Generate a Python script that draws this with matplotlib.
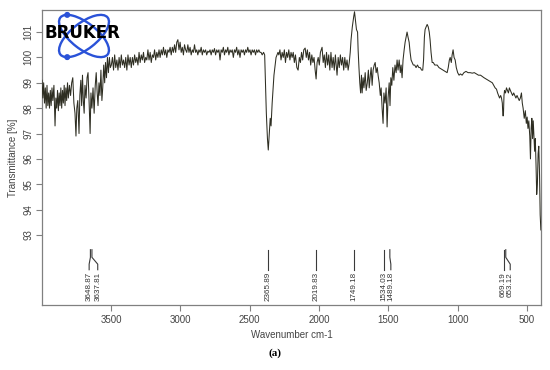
import numpy as np
import matplotlib
matplotlib.use("Agg")
import matplotlib.pyplot as plt
from matplotlib.patches import Ellipse, Circle

# ---------------- data ----------------
wavenumber = [
    3998, 3992, 3986, 3980, 3974, 3968, 3962, 3956, 3950, 3944, 3938, 3932, 3926, 3920, 3912,
    3904, 3898, 3892, 3886, 3880, 3874, 3868, 3862, 3856, 3850, 3844, 3838, 3832, 3826, 3820,
    3814, 3808, 3800, 3792, 3784, 3776, 3768, 3760, 3753, 3747, 3740, 3731, 3725, 3718, 3712,
    3706, 3700, 3694, 3688, 3680, 3673, 3666, 3658, 3651, 3645, 3638, 3630, 3622, 3614, 3607,
    3600, 3594, 3587, 3580, 3573, 3566, 3560, 3553, 3546, 3540, 3533, 3526, 3519, 3512, 3505,
    3498, 3490, 3482, 3474, 3466, 3458, 3450, 3442, 3434, 3426, 3418, 3410, 3402, 3394, 3386,
    3378, 3370, 3362, 3354, 3346, 3338, 3330, 3322, 3314, 3306, 3298, 3290, 3282, 3274, 3266,
    3258, 3250, 3242, 3234, 3226, 3218, 3210, 3202, 3194, 3186, 3178, 3170, 3162, 3154, 3146,
    3138, 3130, 3122, 3114, 3106, 3098, 3090, 3082, 3074, 3066, 3058, 3050, 3042, 3034, 3026,
    3018, 3010, 3002, 2994, 2986, 2978, 2970, 2962, 2954, 2946, 2938, 2930, 2922, 2914, 2906,
    2898, 2890, 2882, 2874, 2866, 2858, 2850, 2842, 2834, 2826, 2818, 2810, 2802, 2794, 2786,
    2778, 2770, 2762, 2754, 2746, 2738, 2730, 2722, 2714, 2706, 2698, 2690, 2682, 2674, 2666,
    2658, 2650, 2642, 2634, 2626, 2618, 2610, 2602, 2594, 2586, 2578, 2570, 2562, 2554, 2546,
    2538, 2530, 2522, 2514, 2506, 2498, 2490, 2482, 2474, 2466, 2458, 2450, 2442, 2434, 2426,
    2418, 2410, 2400, 2392, 2386, 2380, 2372, 2366, 2360, 2352, 2346, 2338, 2325, 2310, 2296,
    2290, 2282, 2274, 2266, 2258, 2250, 2242, 2234, 2226, 2218, 2210, 2202, 2194, 2186, 2178,
    2170, 2160, 2151, 2142, 2134, 2126, 2118, 2110, 2100, 2092, 2084, 2076, 2068, 2060, 2052,
    2044, 2036, 2028, 2021, 2014, 2006, 1998, 1990, 1978, 1970, 1962, 1954, 1946, 1938, 1930,
    1922, 1914, 1906, 1898, 1890, 1882, 1870, 1862, 1854, 1846, 1838, 1830, 1822, 1814, 1806,
    1798, 1790, 1782, 1775, 1769, 1760, 1750, 1744, 1738, 1730, 1722, 1718, 1712, 1706, 1700,
    1694, 1689, 1682, 1676, 1667, 1660, 1652, 1644, 1638, 1630, 1624, 1617, 1610, 1602, 1595,
    1588, 1580, 1574, 1566, 1558, 1552, 1545, 1538, 1532, 1524, 1516, 1509, 1502, 1494, 1488,
    1482, 1475, 1468, 1460, 1452, 1444, 1437, 1430, 1422, 1414, 1408, 1401, 1394, 1386, 1379,
    1372, 1365, 1358, 1350, 1343, 1336, 1328, 1320, 1310, 1300, 1290, 1280, 1270, 1260, 1252,
    1246, 1240, 1235, 1228, 1220, 1212, 1205, 1199, 1192, 1184, 1176, 1165, 1148, 1135, 1120,
    1105, 1090, 1076, 1068, 1060, 1054, 1046, 1040, 1033, 1026, 1018, 1010, 1000, 990, 980,
    968, 955, 940, 925, 910, 895, 880, 865, 850, 835, 823, 810, 795, 780, 765,
    750, 740, 730, 720, 712, 705, 698, 690, 684, 678, 674, 670, 666, 662, 655,
    648, 641, 634, 627, 620, 612, 604, 596, 588, 580, 572, 564, 556, 548, 540,
    534, 528, 520, 512, 505, 499, 493, 487, 480, 475, 470, 465, 460, 455, 450,
    445, 440, 435, 430, 425, 420, 415, 410, 405, 400,
]
transmittance = [
    99.1, 98.4, 99.0, 98.2, 98.8, 98.0, 98.9, 98.1, 98.6, 98.0, 98.7, 98.1, 98.8, 98.3, 98.9,
    97.3, 98.4, 98.0, 98.7, 97.9, 98.6, 98.1, 98.8, 98.0, 98.7, 98.2, 98.9, 98.1, 98.8, 98.3,
    99.0, 98.4, 98.9, 98.5, 99.0, 99.2, 98.2, 97.8, 96.9, 98.0, 98.3, 97.0, 98.5, 99.1, 98.1,
    99.3, 98.3, 97.8, 98.9, 98.4, 99.2, 99.4, 98.2, 97.0, 98.6, 98.0, 98.8, 97.8, 98.9, 99.4,
    98.6, 98.1, 99.0, 98.5, 99.5, 98.3, 98.8, 99.7, 99.0, 99.8, 99.2, 100.0, 99.4, 100.0, 99.6,
    99.7, 100.0, 99.5, 100.1, 99.6, 99.9, 99.5, 100.0, 99.6, 100.1, 99.7, 99.9, 99.6, 100.0, 99.5,
    100.1, 99.7, 100.0, 99.6, 100.0, 99.7, 100.1, 99.8, 100.0, 99.7, 100.2, 99.8, 100.1, 99.9, 100.2,
    99.8, 100.0, 99.9, 100.3, 99.9, 100.2, 99.8, 100.1, 100.0, 100.3, 99.9, 100.2, 100.0, 100.3, 100.0,
    100.3, 100.1, 100.4, 100.1, 100.3, 100.0, 100.3, 100.2, 100.4, 100.1, 100.4, 100.2, 100.5, 100.2, 100.6,
    100.7, 100.3, 100.6, 100.2, 100.4, 100.1, 100.5, 100.3, 100.2, 100.5, 100.2, 100.4, 100.1, 100.3, 100.2,
    100.5, 100.2, 100.3, 100.1, 100.3, 100.2, 100.4, 100.1, 100.3, 100.2, 100.3, 100.1, 100.25, 100.2, 100.3,
    100.1, 100.3, 100.2, 100.35, 100.1, 100.3, 100.2, 100.3, 99.9, 100.3, 100.2, 100.4, 100.1, 100.3, 100.2,
    100.4, 100.1, 100.3, 100.2, 100.3, 100.0, 100.3, 100.2, 100.4, 100.1, 100.3, 100.0, 100.3, 100.2, 100.3,
    100.1, 100.3, 100.2, 100.4, 100.2, 100.3, 100.1, 100.3, 100.2, 100.3, 100.1, 100.3, 100.2, 100.3, 100.2,
    100.2, 100.1, 100.2, 100.1, 99.0, 97.8, 96.8, 96.35, 96.9, 97.6, 97.3, 98.2, 99.3, 100.0, 100.2,
    100.1, 100.3, 99.9, 100.2, 100.0, 100.3, 99.8, 100.2, 100.0, 100.3, 99.9, 100.2, 100.0, 100.2, 99.8,
    100.1, 99.6, 99.5, 100.0, 99.8, 100.2, 99.9, 100.3, 100.37, 100.0, 100.3, 99.9, 100.2, 99.7, 100.1,
    99.8, 100.0, 99.5, 99.15, 99.8, 100.0, 99.7, 100.2, 100.4, 99.8, 100.1, 99.6, 100.2, 99.7, 100.1,
    99.5, 100.2, 99.6, 100.0, 99.5, 100.1, 99.3, 100.0, 99.6, 100.1, 99.7, 100.0, 99.5, 100.0, 99.6,
    99.9, 99.5, 99.8, 100.2, 100.7, 101.2, 101.6, 101.8, 101.5, 101.1, 101.0, 100.3, 99.6, 99.0, 98.6,
    99.3, 98.6, 99.2, 98.8, 99.4, 98.7, 99.0, 99.5, 98.8, 99.3, 99.6, 98.9, 99.5, 99.7, 99.8,
    99.4, 99.6, 99.3, 99.0, 98.5, 98.8, 98.0, 97.4, 98.6, 98.2, 98.8, 97.26, 98.4, 99.0, 98.1,
    99.2, 98.9, 99.6, 99.1, 99.7, 99.4, 99.9, 99.5, 99.9, 99.4, 99.7, 99.2, 99.9, 100.3, 100.6,
    100.8, 101.0, 100.8, 100.6, 100.2, 99.9, 99.8, 99.7, 99.7, 99.6, 99.7, 99.6, 99.6, 99.5, 99.5,
    99.9, 100.8, 101.1, 101.2, 101.3, 101.2, 101.0, 100.7, 100.2, 99.8, 99.8, 99.7, 99.7, 99.6, 99.55,
    99.5, 99.45, 99.4, 99.6, 99.9, 100.0, 99.8, 100.1, 100.3, 100.0, 99.9, 99.6, 99.4, 99.3, 99.35,
    99.3, 99.4, 99.45, 99.4, 99.4, 99.38, 99.4, 99.35, 99.3, 99.3, 99.25, 99.2, 99.15, 99.1, 99.05,
    99.0, 98.9, 98.8, 98.75, 98.6, 98.5, 98.4, 98.5, 98.4, 98.2, 97.7, 97.7, 98.5, 98.7, 98.6,
    98.8, 98.7, 98.6, 98.8, 98.7, 98.6, 98.5, 98.6, 98.5, 98.4, 98.5, 98.4, 98.3, 98.4, 98.6,
    98.2, 98.0, 97.6, 97.9, 97.4, 97.65, 97.2, 97.5, 96.9, 96.0, 97.2, 97.6, 96.8, 97.5, 96.9,
    96.3, 96.8, 95.8, 94.6, 95.0, 96.2, 96.5, 95.5, 93.8, 93.2,
]

peak_values = [3648.87, 3637.81, 2365.89, 2019.83, 1749.18, 1534.03, 1489.18, 669.19, 653.12]
peak_labels = ["3648.87", "3637.81", "2365.89", "2019.83", "1749.18", "1534.03", "1489.18", "669.19", "653.12"]

x_ticks = [3500, 3000, 2500, 2000, 1500, 1000, 500]
y_ticks = [93, 94, 95, 96, 97, 98, 99, 100, 101]

# ---------------- layout ----------------
W, H = 550, 370
fig = plt.figure(figsize=(W / 100, H / 100), dpi=100)
plt.rcParams['font.family'] = ['Liberation Sans', 'DejaVu Sans']

def px_rect(x0, y0, x1, y1):
    return [x0 / W, 1 - y1 / H, (x1 - x0) / W, (y1 - y0) / H]

ax = fig.add_axes(px_rect(42, 10, 541, 305))
text_col = '#444444'
frame_col = '#808080'

ax.plot(wavenumber, transmittance, color='#2e2e22', lw=0.75, zorder=3)
ax.set_xlim(3998, 399)
ax.set_ylim(90.24, 101.87)

ax.set_xticks(x_ticks)
ax.set_yticks(y_ticks)
ax.tick_params(axis='both', direction='out', length=4, width=0.8, color=frame_col,
               labelcolor=text_col, labelsize=7)
ax.tick_params(axis='y', pad=2)
for lbl in ax.get_yticklabels():
    lbl.set_rotation(90)
    lbl.set_va('center')
for s in ax.spines.values():
    s.set_color(frame_col)
    s.set_linewidth(0.9)

ax.set_xlabel('Wavenumber cm-1', fontsize=7, color=text_col, labelpad=3)
ax.set_ylabel('Transmittance [%]', fontsize=7, color=text_col, labelpad=4)

# peak annotations
label_pos = [3658, 3596, 2365.89, 2019.83, 1749.18, 1534.03, 1482, 669.19, 621]
y_top, y_b1, y_b2, y_end, y_txt = 92.42, 92.12, 91.85, 91.63, 91.55
for pv, lp, lab in zip(peak_values, label_pos, peak_labels):
    ax.plot([pv, pv, lp, lp], [y_top, y_b1, y_b2, y_end], color='#3a3a3a', lw=0.8, zorder=3)
    ax.text(lp, y_txt, lab, rotation=90, ha='center', va='top', fontsize=5.8, color='#333333')

# Bruker logo
lax = fig.add_axes(px_rect(48, 2, 120, 64))
lax.set_xlim(0, 72)
lax.set_ylim(0, 62)
lax.axis('off')
blue = '#2a52d8'
cx, cy, a, b = 36, 28, 30, 13
for ang in (-38, 38):
    lax.add_patch(Ellipse((cx, cy), 2 * a, 2 * b, angle=ang, fill=False, ec=blue, lw=1.7))
t = np.linspace(0, 2 * np.pi, 721)
for ang, pick in ((-38, np.argmax), (38, np.argmin)):
    th = np.radians(ang)
    ex = cx + a * np.cos(t) * np.cos(th) - b * np.sin(t) * np.sin(th)
    ey = cy + a * np.cos(t) * np.sin(th) + b * np.sin(t) * np.cos(th)
    i = pick(ey)
    lax.add_patch(Circle((ex[i], ey[i]), 2.3, color=blue))
fig.text(82 / W, 1 - 32.5 / H, 'BRUKER', fontsize=12, fontweight='bold',
         family='DejaVu Sans', color='black', ha='center', va='center', zorder=10)

fig.text(275 / W, 1 - 353 / H, '(a)', fontsize=8, fontweight='bold',
         family='Liberation Serif', color='black', ha='center', va='center')

fig.savefig('out.png', dpi=100)
